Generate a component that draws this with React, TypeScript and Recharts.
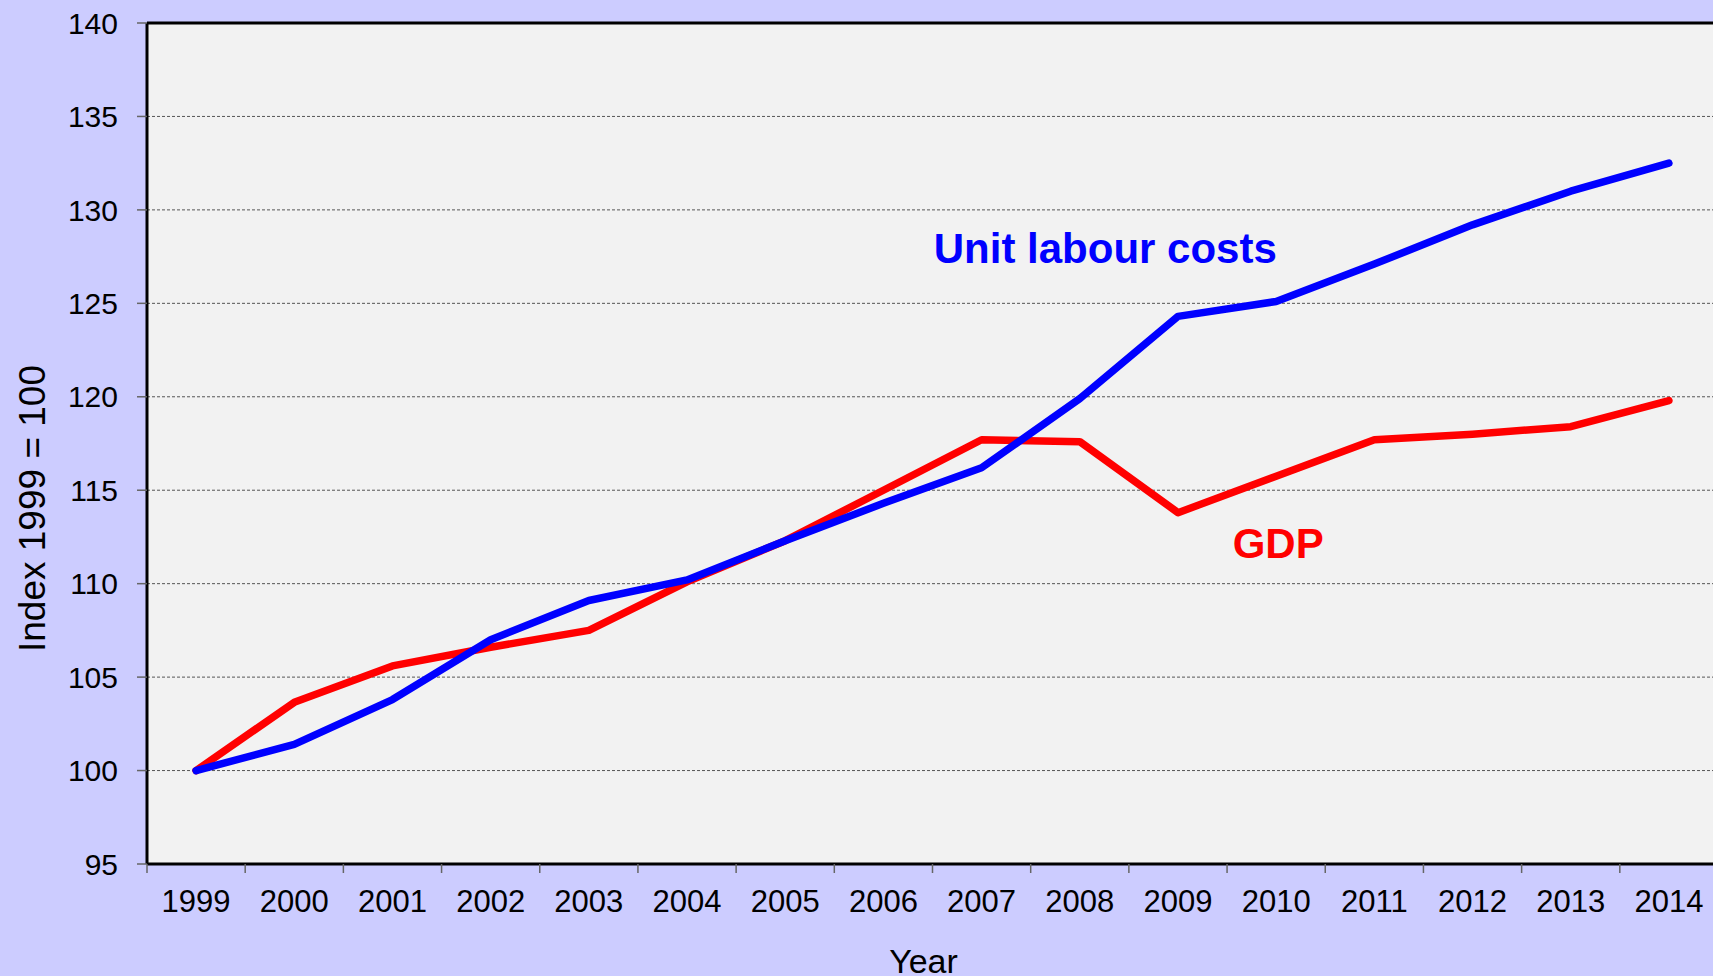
import React from "react";
import {
  LineChart,
  Line,
  XAxis,
  YAxis,
  CartesianGrid,
  ReferenceLine,
  ReferenceDot,
} from "recharts";

const years = [1999, 2000, 2001, 2002, 2003, 2004, 2005, 2006, 2007, 2008, 2009, 2010, 2011, 2012, 2013, 2014];
const unitLabourCosts = [100, 101.4, 103.8, 107.0, 109.1, 110.2, 112.3, 114.3, 116.2, 119.9, 124.3, 125.1, 127.1, 129.2, 131.0, 132.5];
const gdp = [100, 103.65, 105.6, 106.6, 107.5, 110.1, 112.3, 115.0, 117.7, 117.6, 113.8, 115.75, 117.7, 118.0, 118.4, 119.8];
const yTicks = [95, 100, 105, 110, 115, 120, 125, 130, 135, 140];

const ulcLabel = "Unit labour costs";
const gdpLabel = "GDP";
const yAxisTitle = "Index 1999 = 100";
const xAxisTitle = "Year";

const data = years.map((y, i) => ({ year: y, ulc: unitLabourCosts[i], gdp: gdp[i] }));
const xTicks: number[] = [];
years.forEach((y, i) => {
  if (i === 0) xTicks.push(y - 0.5);
  xTicks.push(y);
  xTicks.push(y + 0.5);
});

const FONT = "'Liberation Sans', Arial, sans-serif";

const XTick = (props: any) => {
  const { x, y, payload } = props;
  const v = payload.value;
  if (Number.isInteger(v)) {
    return (
      <text x={x} y={y + 48} textAnchor="middle" fontSize={31} fill="#000" fontFamily={FONT}>
        {v}
      </text>
    );
  }
  return <line x1={x} x2={x} y1={y} y2={y + 9} stroke="#666" strokeWidth={1.5} />;
};

const YTitle = (props: any) => {
  const vb = props.viewBox;
  const cx = vb.x + 32;
  const cy = vb.y + vb.height / 2 + 65;
  return (
    <text
      x={cx}
      y={cy}
      transform={`rotate(-90 ${cx} ${cy})`}
      textAnchor="middle"
      dominantBaseline="central"
      fontSize={37}
      fill="#000"
      fontFamily={FONT}
    >
      {yAxisTitle}
    </text>
  );
};

const XTitle = (props: any) => {
  const vb = props.viewBox;
  return (
    <text
      x={vb.x + vb.width / 2 - 9}
      y={vb.y + 108.5}
      textAnchor="middle"
      fontSize={34}
      fill="#000"
      fontFamily={FONT}
    >
      {xAxisTitle}
    </text>
  );
};

const makeAnno = (text: string, color: string, dx: number) => (props: any) => {
  const vb = props.viewBox;
  return (
    <text
      x={vb.x + dx}
      y={vb.y}
      textAnchor="middle"
      fontSize={42}
      fontWeight="bold"
      fill={color}
      fontFamily={FONT}
    >
      {text}
    </text>
  );
};

export default function App() {
  return (
    <div
      style={{
        position: "absolute",
        left: 0,
        top: 0,
        width: 1713,
        height: 976,
        overflow: "hidden",
        background: "#ccccff",
        fontFamily: FONT,
      }}
    >
      <LineChart width={1718} height={976} data={data} margin={{ top: 23, right: 0, left: 0, bottom: 0 }}>
        <CartesianGrid
          vertical={false}
          horizontal={true}
          stroke="#555"
          strokeDasharray="3 2"
          strokeWidth={1}
          fill="#f2f2f2"
        />
        <XAxis
          dataKey="year"
          type="number"
          domain={[1998.5, 2014.5]}
          ticks={xTicks}
          interval={0}
          tick={<XTick />}
          tickLine={false}
          tickSize={0}
          tickMargin={0}
          height={112}
          axisLine={{ stroke: "#000", strokeWidth: 3 }}
          label={<XTitle />}
        />
        <YAxis
          type="number"
          domain={[95, 140]}
          ticks={yTicks}
          interval={0}
          width={147}
          tickSize={10}
          tickMargin={19}
          tickLine={{ stroke: "#666", strokeWidth: 1.5 }}
          axisLine={{ stroke: "#000", strokeWidth: 3 }}
          tick={{ fontSize: 30, fill: "#000", fontFamily: FONT }}
          label={<YTitle />}
        />
        <ReferenceLine y={140} stroke="#000" strokeWidth={3} />
        <Line
          type="linear"
          dataKey="gdp"
          stroke="#ff0000"
          strokeWidth={7.5}
          dot={false}
          strokeLinecap="round"
          strokeLinejoin="round"
          isAnimationActive={false}
        />
        <Line
          type="linear"
          dataKey="ulc"
          stroke="#0000ff"
          strokeWidth={7.5}
          dot={false}
          strokeLinecap="round"
          strokeLinejoin="round"
          isAnimationActive={false}
        />
        <ReferenceDot
          x={2008}
          y={127.14}
          r={0}
          fill="none"
          stroke="none"
          label={{ content: makeAnno(ulcLabel, "#0000ff", 25.5) }}
        />
        <ReferenceDot
          x={2010}
          y={111.37}
          r={0}
          fill="none"
          stroke="none"
          label={{ content: makeAnno(gdpLabel, "#ff0000", 2) }}
        />
      </LineChart>
    </div>
  );
}
